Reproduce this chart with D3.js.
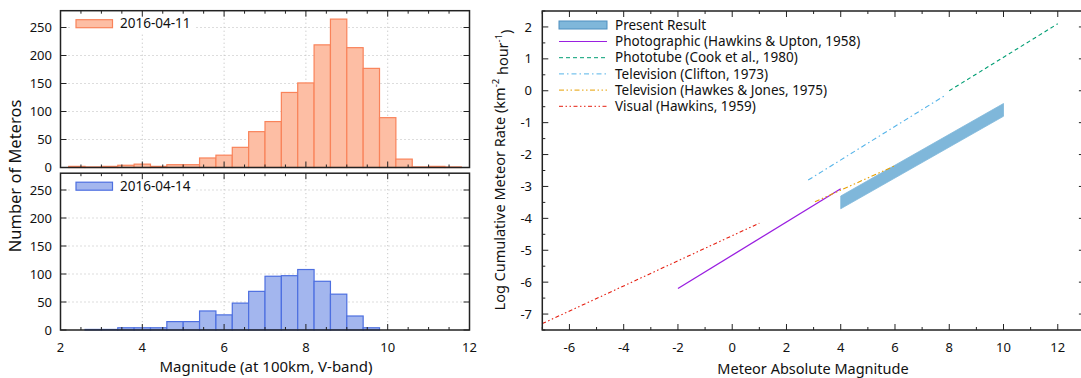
<!DOCTYPE html>
<html>
<head>
<meta charset="utf-8">
<script src="https://cdn.jsdelivr.net/npm/d3@7"></script>
<style>
  html, body { margin: 0; padding: 0; background: #fff; }
  svg { display: block; font-family: "Noto Sans", "Open Sans", sans-serif; }
</style>
</head>
<body>
<div id="chart"></div>
<script>
// histogram bins (left edge, width 0.4 mag)
const binWidth = 0.4;
const binsApr11 = [2.2, 2.6, 3.0, 3.4, 3.8, 4.2, 4.6, 5.0, 5.4, 5.8, 6.2, 6.6, 7.0, 7.4, 7.8, 8.2, 8.6, 9.0, 9.4, 9.8, 10.2, 10.6, 11.0, 11.4];
const countsApr11 = [2, 1, 2, 4, 6, 2, 5, 5, 17, 22, 36, 64, 82, 134, 151, 219, 265, 214, 177, 89, 15, 1, 2, 1];
const binsApr14 = [2.6, 3.0, 3.4, 3.8, 4.2, 4.6, 5.0, 5.4, 5.8, 6.2, 6.6, 7.0, 7.4, 7.8, 8.2, 8.6, 9.0, 9.4];
const countsApr14 = [1, 1, 4, 4, 4, 15, 15, 34, 27, 48, 69, 96, 97, 108, 87, 64, 25, 4];

const histXTicks = [2, 4, 6, 8, 10, 12];
const histYTicks = [0, 50, 100, 150, 200, 250];

// rate plot
const presentMag = [4, 10];
const presentLow = [-3.7, -0.8];
const presentHigh = [-3.3, -0.4];

const photoMag = [-2, 4];
const photoRate = [-6.2, -3.07];
const phototubeMag = [8, 12];
const phototubeRate = [0.0, 2.1];
const cliftonMag = [2.8, 7.8];
const cliftonRate = [-2.8, -0.17];
const hawkesMag = [3.05, 6];
const hawkesRate = [-3.48, -2.35];
const visualMag = [-7, 1];
const visualRate = [-7.3, -4.15];

const rateXTicks = [-6, -4, -2, 0, 2, 4, 6, 8, 10, 12];
const rateYTicks = [-7, -6, -5, -4, -3, -2, -1, 0, 1, 2];

const W = 1081, H = 378;
const svg = d3.select("#chart").append("svg")
  .attr("width", W).attr("height", H)
  .attr("viewBox", [0, 0, W, H]);

const axisColor = "#222";
const gridColor = "#bbb";
const tickFont = 13;
const keyFont = 13.5;
const titleFont = 15;

// ---------- left histograms ----------
const hx = d3.scaleLinear().domain([2, 12]).range([60.5, 469.5]);

function histPanel(y0, y1, bins, counts, fill, stroke, label, showX) {
  const y = d3.scaleLinear().domain([0, 280]).range([y1, y0]);
  const g = svg.append("g");

  // grid
  g.append("g").selectAll("line.gx").data(histXTicks.slice(1, -1)).join("line")
    .attr("x1", d => hx(d)).attr("x2", d => hx(d))
    .attr("y1", y0).attr("y2", y1)
    .attr("stroke", gridColor).attr("stroke-dasharray", "1,3");
  g.append("g").selectAll("line.gy").data(histYTicks.slice(1)).join("line")
    .attr("x1", hx.range()[0]).attr("x2", hx.range()[1])
    .attr("y1", d => y(d)).attr("y2", d => y(d))
    .attr("stroke", gridColor).attr("stroke-dasharray", "1,3");

  // legend background
  g.append("rect").attr("x", 70).attr("y", y0 + 4).attr("width", 126).attr("height", 18).attr("fill", "#fff");

  // bars
  g.append("g").selectAll("rect").data(bins).join("rect")
    .attr("x", d => hx(d))
    .attr("width", d => hx(d + binWidth) - hx(d))
    .attr("y", (d, i) => y(counts[i]))
    .attr("height", (d, i) => y(0) - y(counts[i]))
    .attr("fill", fill).attr("stroke", stroke).attr("stroke-width", 1.2);

  // ticks (inward, mirrored)
  const minor = d3.range(2, 12.01, 0.5);
  const tk = g.append("g").attr("stroke", axisColor);
  minor.forEach(v => {
    const major = Math.abs(v / 2 - Math.round(v / 2)) < 1e-6;
    const len = major ? 6 : 3;
    tk.append("line").attr("x1", hx(v)).attr("x2", hx(v)).attr("y1", y1).attr("y2", y1 - len);
    tk.append("line").attr("x1", hx(v)).attr("x2", hx(v)).attr("y1", y0).attr("y2", y0 + len);
  });
  histYTicks.forEach(v => {
    tk.append("line").attr("x1", hx.range()[0]).attr("x2", hx.range()[0] + 6).attr("y1", y(v)).attr("y2", y(v));
    tk.append("line").attr("x1", hx.range()[1]).attr("x2", hx.range()[1] - 6).attr("y1", y(v)).attr("y2", y(v));
  });

  // y labels
  g.append("g").selectAll("text").data(histYTicks).join("text")
    .attr("x", 52).attr("y", d => y(d)).attr("dy", "0.35em")
    .attr("text-anchor", "end").attr("font-size", tickFont).attr("fill", "#111")
    .text(d => d);

  if (showX) {
    g.append("g").selectAll("text").data(histXTicks).join("text")
      .attr("x", d => hx(d)).attr("y", y1 + 17).attr("dy", "0.35em")
      .attr("text-anchor", "middle").attr("font-size", tickFont).attr("fill", "#111")
      .text(d => d);
  }

  // border
  g.append("rect").attr("x", hx.range()[0]).attr("y", y0)
    .attr("width", hx.range()[1] - hx.range()[0]).attr("height", y1 - y0)
    .attr("fill", "none").attr("stroke", axisColor).attr("stroke-width", 1.5);

  // legend
  g.append("rect").attr("x", 76).attr("y", y0 + 9).attr("width", 36.5).attr("height", 8)
    .attr("fill", fill).attr("stroke", stroke).attr("stroke-width", 1.2);
  g.append("text").attr("x", 120).attr("y", y0 + 13).attr("dy", "0.35em")
    .attr("font-size", keyFont).attr("fill", "#111").text(label);
}

histPanel(10.7, 167.5, binsApr11, countsApr11, "#fdbea4", "#f9835a", "2016-04-11", false);
histPanel(173.2, 330, binsApr14, countsApr14, "#a3b6ee", "#4d6fe0", "2016-04-14", true);

svg.append("text")
  .attr("transform", "translate(15,176) rotate(-90)")
  .attr("text-anchor", "middle").attr("dy", "0.35em")
  .attr("font-size", 16.5).attr("fill", "#111")
  .text("Number of Meteros");
svg.append("text")
  .attr("x", 266).attr("y", 367).attr("dy", "0.35em")
  .attr("text-anchor", "middle").attr("font-size", titleFont).attr("fill", "#111")
  .text("Magnitude (at 100km, V-band)");

// ---------- right rate plot ----------
const rx = d3.scaleLinear().domain([-7, 13]).range([542.3, 1084.9]);
const ry = d3.scaleLinear().domain([-7.5, 2.5]).range([330, 11]);
const rg = svg.append("g");

const clip = svg.append("clipPath").attr("id", "rclip");
clip.append("rect").attr("x", rx.range()[0]).attr("y", ry.range()[1])
  .attr("width", rx.range()[1] - rx.range()[0]).attr("height", ry.range()[0] - ry.range()[1]);

const plot = rg.append("g").attr("clip-path", "url(#rclip)");

const area = d3.area()
  .x((d, i) => rx(presentMag[i]))
  .y0((d, i) => ry(presentLow[i]))
  .y1((d, i) => ry(presentHigh[i]));
plot.append("path").attr("d", area(presentMag))
  .attr("fill", "#7fb7da").attr("stroke", "#7fb7da").attr("stroke-width", 0.8);

const series = [
  { label: "Photographic (Hawkins & Upton, 1958)", mag: photoMag, rate: photoRate, color: "#9a1fe0", dash: null, w: 1.3 },
  { label: "Phototube (Cook et al., 1980)", mag: phototubeMag, rate: phototubeRate, color: "#009e73", dash: "4,3", w: 1.1 },
  { label: "Television (Clifton, 1973)", mag: cliftonMag, rate: cliftonRate, color: "#56b4e9", dash: "5,3,1.5,3", w: 1.1 },
  { label: "Television (Hawkes & Jones, 1975)", mag: hawkesMag, rate: hawkesRate, color: "#e69f00", dash: "5,2.5,1.5,2.5,1.5,2.5", w: 1.1 },
  { label: "Visual (Hawkins, 1959)", mag: visualMag, rate: visualRate, color: "#e51e10", dash: "4,2.5,1.5,2.5,1.5,2.5", w: 1.1 }
];

const line = d3.line();
series.forEach(s => {
  const pts = s.mag.map((m, i) => [rx(m), ry(s.rate[i])]);
  plot.append("path").attr("d", line(pts))
    .attr("fill", "none").attr("stroke", s.color).attr("stroke-width", s.w)
    .attr("stroke-dasharray", s.dash);
});

// ticks
const rtk = rg.append("g").attr("stroke", axisColor);
d3.range(-7, 13.01, 1).forEach(v => {
  const major = v % 2 === 0;
  const len = major ? 6 : 3;
  rtk.append("line").attr("x1", rx(v)).attr("x2", rx(v)).attr("y1", ry.range()[0]).attr("y2", ry.range()[0] - len);
  rtk.append("line").attr("x1", rx(v)).attr("x2", rx(v)).attr("y1", ry.range()[1]).attr("y2", ry.range()[1] + len);
});
d3.range(-7.5, 2.51, 0.5).forEach(v => {
  const major = Number.isInteger(v);
  const len = major ? 6 : 3;
  rtk.append("line").attr("x1", rx.range()[0]).attr("x2", rx.range()[0] + len).attr("y1", ry(v)).attr("y2", ry(v));
  rtk.append("line").attr("x1", rx.range()[1]).attr("x2", rx.range()[1] - len).attr("y1", ry(v)).attr("y2", ry(v));
});

rg.append("g").selectAll("text").data(rateXTicks).join("text")
  .attr("x", d => rx(d)).attr("y", 347).attr("dy", "0.35em")
  .attr("text-anchor", "middle").attr("font-size", tickFont).attr("fill", "#111")
  .text(d => d);
rg.append("g").selectAll("text").data(rateYTicks).join("text")
  .attr("x", 532).attr("y", d => ry(d)).attr("dy", "0.35em")
  .attr("text-anchor", "end").attr("font-size", tickFont).attr("fill", "#111")
  .text(d => d);

rg.append("rect").attr("x", rx.range()[0]).attr("y", ry.range()[1])
  .attr("width", rx.range()[1] - rx.range()[0]).attr("height", ry.range()[0] - ry.range()[1])
  .attr("fill", "none").attr("stroke", axisColor).attr("stroke-width", 1.5);

// legend
const lg = rg.append("g");
lg.append("rect").attr("x", 559).attr("y", 21).attr("width", 48).attr("height", 8)
  .attr("fill", "#7fb7da").attr("stroke", "#4f8fc0").attr("stroke-width", 1);
lg.append("text").attr("x", 615).attr("y", 25).attr("dy", "0.35em")
  .attr("font-size", keyFont).attr("fill", "#111").text("Present Result");
series.forEach((s, i) => {
  const yy = 41.5 + i * 16.2;
  lg.append("line").attr("x1", 559).attr("x2", 607).attr("y1", yy).attr("y2", yy)
    .attr("stroke", s.color).attr("stroke-width", 1).attr("stroke-dasharray", s.dash);
  lg.append("text").attr("x", 615).attr("y", yy).attr("dy", "0.35em")
    .attr("font-size", keyFont).attr("fill", "#111").text(s.label);
});

const ytitle = rg.append("text")
  .attr("transform", "translate(500,170) rotate(-90)")
  .attr("text-anchor", "middle").attr("dy", "0.35em")
  .attr("font-size", 14.5).attr("fill", "#111");
ytitle.append("tspan").text("Log Cumulative Meteor Rate (km");
ytitle.append("tspan").attr("font-size", 9.5).attr("dy", "-0.6em").text("-2");
ytitle.append("tspan").attr("dy", "0.6em").text(" hour");
ytitle.append("tspan").attr("font-size", 9.5).attr("dy", "-0.6em").text("-1");
ytitle.append("tspan").attr("dy", "0.6em").text(")");

rg.append("text")
  .attr("x", 813).attr("y", 369).attr("dy", "0.35em")
  .attr("text-anchor", "middle").attr("font-size", 14.5).attr("fill", "#111")
  .text("Meteor Absolute Magnitude");
</script>
</body>
</html>
